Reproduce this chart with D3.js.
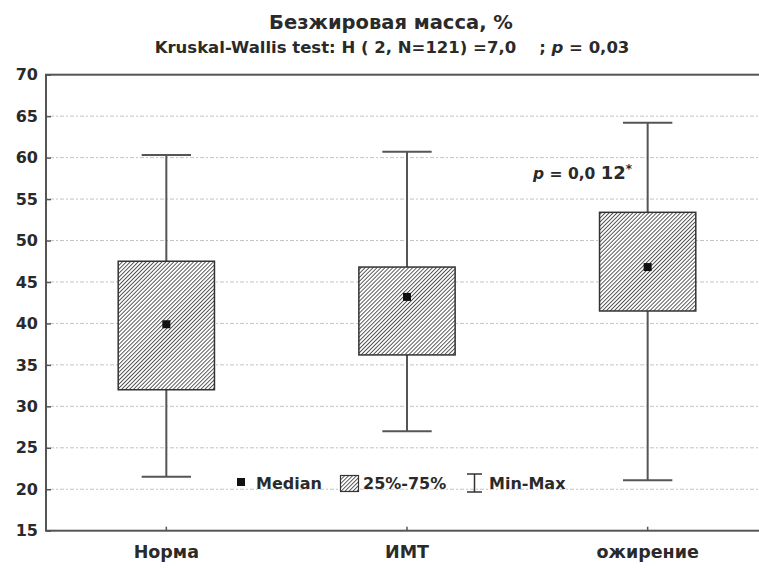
<!DOCTYPE html>
<html>
<head>
<meta charset="utf-8">
<script src="https://cdn.jsdelivr.net/npm/d3@7"></script>
<style>
  body { margin: 0; background: #fff; }
  svg text { font-family: "DejaVu Sans", sans-serif; fill: #2a2a2a; font-weight: bold; }
</style>
</head>
<body>
<div id="chart"></div>
<script>
// data
var categories = ["Норма", "ИМТ", "ожирение"];
var minVals = [21.5, 27.0, 21.1];
var q1Vals = [32.0, 36.2, 41.5];
var medianVals = [39.9, 43.2, 46.8];
var q3Vals = [47.5, 46.8, 53.4];
var maxVals = [60.3, 60.7, 64.2];
var yTicks = [15, 20, 25, 30, 35, 40, 45, 50, 55, 60, 65, 70];

var rows = categories.map(function(c, i) {
  return { cat: c, min: minVals[i], q1: q1Vals[i], med: medianVals[i], q3: q3Vals[i], max: maxVals[i] };
});

var svgWidth = 759, svgHeight = 568;
// plot frame: right edge falls outside the window, as in the scan
var margin = { top: 74.7, left: 46, right: -9, bottom: 37.3 };
var width = svgWidth - margin.left - margin.right;
var height = svgHeight - margin.top - margin.bottom;

var svg = d3.select("#chart")
  .append("svg")
  .attr("width", svgWidth)
  .attr("height", svgHeight);

var defs = svg.append("defs");
var pat = defs.append("pattern")
  .attr("id", "hatch")
  .attr("patternUnits", "userSpaceOnUse")
  .attr("width", 2.8)
  .attr("height", 2.8)
  .attr("patternTransform", "rotate(45)");
pat.append("rect").attr("width", 2.8).attr("height", 2.8).attr("fill", "#fff");
pat.append("line")
  .attr("x1", 0).attr("y1", 0).attr("x2", 0).attr("y2", 2.8)
  .attr("stroke", "#333").attr("stroke-width", 1.6);

// title
svg.append("text")
  .attr("x", 391).attr("y", 29)
  .attr("text-anchor", "middle")
  .attr("font-size", 19.5)
  .text("Безжировая масса, %");

var sub = svg.append("text")
  .attr("x", 392).attr("y", 53)
  .attr("text-anchor", "middle")
  .attr("font-size", 16.5);
sub.append("tspan").text("Kruskal-Wallis test: H ( 2, N=121) =7,0\u00a0\u00a0\u00a0 ; ");
sub.append("tspan").attr("font-style", "italic").text("p");
sub.append("tspan").text(" = 0,03");

var chartGroup = svg.append("g")
  .attr("transform", `translate(${margin.left}, ${margin.top})`);

var yScale = d3.scaleLinear()
  .domain([15, 70])
  .range([height, 0]);

var xScale = d3.scaleBand()
  .domain(categories)
  .range([0, width]);

// grid lines
chartGroup.selectAll(".grid")
  .data(yTicks.filter(t => t > 15 && t < 70))
  .enter()
  .append("line")
  .attr("class", "grid")
  .attr("x1", 0).attr("x2", width)
  .attr("y1", d => yScale(d)).attr("y2", d => yScale(d))
  .attr("stroke", "#c4c4c4")
  .attr("stroke-width", 1)
  .attr("stroke-dasharray", "2,2,4,2");

// axes
var yAxis = d3.axisLeft(yScale).tickValues(yTicks).tickSize(-5).tickPadding(8);
var gy = chartGroup.append("g").call(yAxis);
gy.select(".domain").remove();
gy.selectAll("line").attr("stroke", "#555").attr("stroke-width", 1.5);
gy.selectAll("text").attr("font-size", 16).attr("fill", "#2a2a2a")
  .attr("font-family", "DejaVu Sans").attr("font-weight", "bold");

var xAxis = d3.axisBottom(xScale).tickSize(-4).tickPadding(15);
var gx = chartGroup.append("g").attr("transform", `translate(0, ${height})`).call(xAxis);
gx.select(".domain").remove();
gx.selectAll("line").attr("stroke", "#555").attr("stroke-width", 1.5);
gx.selectAll("text").attr("font-size", 17.5).attr("fill", "#2a2a2a")
  .attr("font-family", "DejaVu Sans").attr("font-weight", "bold");

// frame
chartGroup.append("rect")
  .attr("x", 0).attr("y", 0)
  .attr("width", width).attr("height", height)
  .attr("fill", "none")
  .attr("stroke", "#555")
  .attr("stroke-width", 2);

var bw = xScale.bandwidth();
var boxW = bw * 0.4;
var capW = bw * 0.205;

var boxes = chartGroup.selectAll(".box")
  .data(rows)
  .enter()
  .append("g")
  .attr("class", "box")
  .attr("transform", d => `translate(${xScale(d.cat) + bw / 2}, 0)`);

boxes.append("line")
  .attr("x1", 0).attr("x2", 0)
  .attr("y1", d => yScale(d.max)).attr("y2", d => yScale(d.min))
  .attr("stroke", "#555").attr("stroke-width", 2);

boxes.append("line")
  .attr("x1", -capW / 2).attr("x2", capW / 2)
  .attr("y1", d => yScale(d.max)).attr("y2", d => yScale(d.max))
  .attr("stroke", "#555").attr("stroke-width", 2);

boxes.append("line")
  .attr("x1", -capW / 2).attr("x2", capW / 2)
  .attr("y1", d => yScale(d.min)).attr("y2", d => yScale(d.min))
  .attr("stroke", "#555").attr("stroke-width", 2);

boxes.append("rect")
  .attr("x", -boxW / 2)
  .attr("width", boxW)
  .attr("y", d => yScale(d.q3))
  .attr("height", d => yScale(d.q1) - yScale(d.q3))
  .attr("fill", "url(#hatch)")
  .attr("stroke", "#333")
  .attr("stroke-width", 1.5);

boxes.append("rect")
  .attr("x", -4).attr("width", 8)
  .attr("y", d => yScale(d.med) - 4).attr("height", 8)
  .attr("fill", "#111");

// annotation
var ann = svg.append("text")
  .attr("x", 533).attr("y", 179)
  .attr("font-size", 15.5);
ann.append("tspan").attr("font-style", "italic").text("p");
ann.append("tspan").text(" = 0,0 ");
ann.append("tspan").attr("font-size", 18).text("12");
ann.append("tspan").attr("font-size", 12).attr("dy", -6).text("*");

// legend
var leg = svg.append("g").attr("class", "legend");
leg.append("rect").attr("x", 237).attr("y", 478).attr("width", 8).attr("height", 8).attr("fill", "#111");
leg.append("text").attr("x", 256).attr("y", 489).attr("font-size", 16).text("Median");
leg.append("rect").attr("x", 340.5).attr("y", 475.5).attr("width", 18).attr("height", 16)
  .attr("fill", "url(#hatch)").attr("stroke", "#333").attr("stroke-width", 1.2);
leg.append("text").attr("x", 363).attr("y", 489).attr("font-size", 16).text("25%-75%");
var ib = leg.append("g").attr("stroke", "#333").attr("stroke-width", 1.5);
ib.append("line").attr("x1", 467).attr("x2", 482).attr("y1", 474).attr("y2", 474);
ib.append("line").attr("x1", 474.5).attr("x2", 474.5).attr("y1", 474).attr("y2", 492);
ib.append("line").attr("x1", 467).attr("x2", 482).attr("y1", 492).attr("y2", 492);
leg.append("text").attr("x", 489).attr("y", 489).attr("font-size", 16).text("Min-Max");
</script>
</body>
</html>
